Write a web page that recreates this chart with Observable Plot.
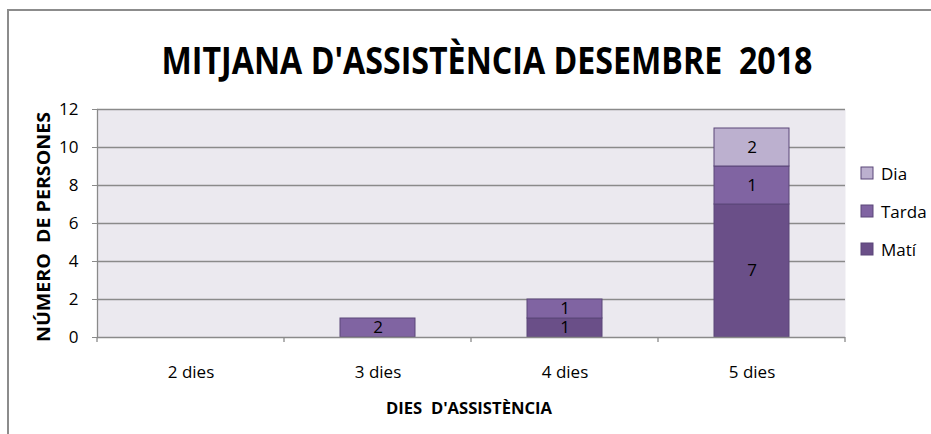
<!DOCTYPE html>
<html><head><meta charset="utf-8">
<script src="https://cdn.jsdelivr.net/npm/d3@7"></script>
<script src="https://cdn.jsdelivr.net/npm/@observablehq/plot@0.6"></script>
<style>
body{margin:0;background:#fff;}
#chart{width:931px;height:434px;}
</style></head><body><div id="chart"></div>
<script>
const categories = ["2 dies","3 dies","4 dies","5 dies"];
const seriesNames = ["Matí","Tarda","Dia"];
const matiValues = [0,0,1,7];
const tardaValues = [0,1,1,2];
const diaValues = [0,0,0,2];
const matiLabels = ["","","1","7"];
const tardaLabels = ["","2","1","1"];
const diaLabels = ["","","","2"];
const yTicks = [0,2,4,6,8,10,12];
const seriesColors = ["#6a4f88","#8064a2","#bcb0cf"];
const titleText = "MITJANA D'ASSISTÈNCIA DESEMBRE  2018";
const yTitle = "NÚMERO  DE PERSONES";
const xTitle = "DIES  D'ASSISTÈNCIA";

const values = [matiValues, tardaValues, diaValues];
const labels = [matiLabels, tardaLabels, diaLabels];
const rows = [];
seriesNames.forEach((s,i) => categories.forEach((c,j) => rows.push({series:s, cat:c, value:values[i][j], label:labels[i][j]})));
const shown = rows.filter(d => d.value > 0);

const W = 931, H = 434;
const grid = "#8a8a8a";
const plot = Plot.plot({
  width: W, height: H,
  marginLeft: 97, marginRight: 86, marginTop: 109, marginBottom: 97,
  style: {fontFamily: "'Open Sans', sans-serif", fontSize: "17px", color: "#000", background: "#fff", overflow: "visible"},
  x: {domain: categories, padding: 0, label: null},
  y: {domain: [0, 12], label: null},
  color: {domain: seriesNames, range: seriesColors},
  marks: [
    Plot.frame({fill: "#ebe9ef", stroke: null}),
    Plot.ruleY(yTicks.filter(d => d > 0), {stroke: grid, strokeWidth: 1.3}),
    Plot.barY(shown, Plot.stackY({x: "cat", y: "value", fill: "series", order: seriesNames, stroke: "#5b4679", strokeWidth: 1, insetLeft: 56, insetRight: 56})),
    Plot.text(shown.filter(d => d.label), Plot.stackY({x: "cat", y: "value", z: "series", order: seriesNames, text: "label", fill: "#000", fontSize: 17})),
    Plot.ruleY([0], {stroke: grid, strokeWidth: 1.3}),
    Plot.frame({anchor: "left", stroke: grid, strokeWidth: 1.3}),
    Plot.axisY({ticks: yTicks, tickSize: 5, tickPadding: 14, stroke: grid, fill: "#000", label: null}),
    Plot.axisX({tickSize: 0, tickPadding: 28, fill: "#000", label: null})
  ]
});
document.getElementById("chart").appendChild(plot);

const svg = d3.select(plot);
const xs = plot.scale("x"), ys = plot.scale("y"), cs = plot.scale("color");
const y0 = ys.apply(0);
const bounds = categories.map(c => xs.apply(c));
bounds.push(xs.apply(categories[categories.length-1]) + xs.bandwidth);
svg.append("g").selectAll("line").data(bounds).join("line")
  .attr("x1", d => d).attr("x2", d => d).attr("y1", y0).attr("y2", y0 + 5)
  .attr("stroke", grid).attr("stroke-width", 1.3);

// outer chart border
svg.append("path").attr("d", "M8,434V10H931").attr("fill", "none").attr("stroke", "#8c8c8c").attr("stroke-width", 2);

// title
svg.append("text").attr("x", 487).attr("y", 74).attr("text-anchor", "middle")
  .attr("font-size", 37).attr("font-weight", "bold").attr("fill", "#000")
  .attr("textLength", 651).attr("lengthAdjust", "spacingAndGlyphs").text(titleText);

// axis titles
svg.append("text").attr("transform", "translate(43,227) rotate(-90)").attr("text-anchor", "middle")
  .attr("dominant-baseline", "central").attr("font-size", 17).attr("font-weight", "bold").attr("fill", "#000")
  .attr("textLength", 230).attr("lengthAdjust", "spacingAndGlyphs").text(yTitle);
svg.append("text").attr("x", 469).attr("y", 414).attr("text-anchor", "middle")
  .attr("font-size", 16).attr("font-weight", "bold").attr("fill", "#000")
  .attr("textLength", 166).attr("lengthAdjust", "spacingAndGlyphs").text(xTitle);

// legend (top to bottom: reverse of stack order)
const legendSeries = seriesNames.slice().reverse();
const lg = svg.append("g").selectAll("g").data(legendSeries).join("g")
  .attr("transform", (d, i) => `translate(861,${173 + i * 38})`);
lg.append("rect").attr("x", 0).attr("y", -6).attr("width", 12).attr("height", 12)
  .attr("fill", d => cs.apply(d)).attr("stroke", "#5b4679").attr("stroke-width", 1);
lg.append("text").attr("x", 20).attr("y", 0).attr("text-anchor", "start").attr("dominant-baseline", "central")
  .attr("font-size", 17).attr("fill", "#000").text(d => d);
</script></body></html>
